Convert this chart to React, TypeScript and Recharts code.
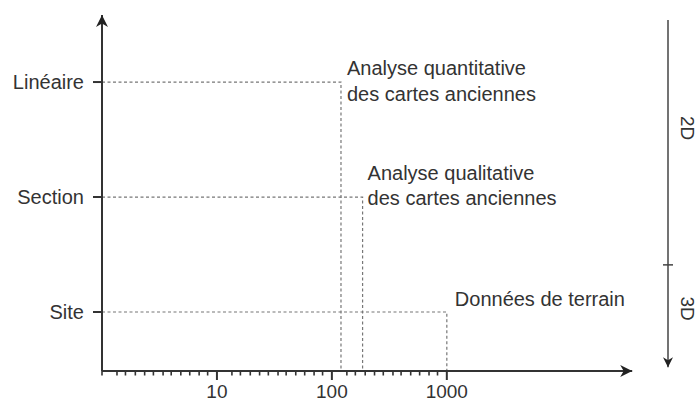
import { LineChart, Line, XAxis, YAxis, ReferenceLine, ReferenceDot } from "recharts";

// niveaux (axe vertical)
const levelNames = ["Site", "Section", "Linéaire"];
const levelValues = [1, 2, 3];

// approches : niveau atteint et échelle (axe horizontal, log)
const approachNames = [
  ["Analyse quantitative", "des cartes anciennes"],
  ["Analyse qualitative", "des cartes anciennes"],
  ["Données de terrain"],
];
const approachLevels = [3, 2, 1];
const approachScales = [120, 185, 1000];

// graduations de l'axe horizontal
const xMajorTicks = [10, 100, 1000];
const xDecades = [1, 10, 100];
const xMinorSteps = [1.35, 1.6, 1.95, 2.35, 2.8, 3.4, 4, 4.85, 5.8, 7, 8.3];

// axe de droite 2D / 3D
const dimNames = ["2D", "3D"];
const dimValues = [2.6, 1.03];
const dimBoundary = 1.41;

const X_MIN = 1;
const X_MAX = 84000;
const X_ARROW = 41000;
const Y_MIN = 0.487;
const Y_MAX = 3.583;
const RIGHT_TOP = 3.54;
const RIGHT_BOTTOM = 0.52;

const FONT = "'Liberation Sans', Arial, sans-serif";
const INK = "#333";
const DASH = "#777";

// décalages des étiquettes par rapport au coin de chaque tracé
const labelOffsets = [
  { dx: 6, dy: [-7.5, 18.5] },
  { dx: 5, dy: [-17.5, 7.5] },
  { dx: 8, dy: [-6] },
];

const xTicks = [
  X_MIN,
  ...xDecades.flatMap((d) => xMinorSteps.map((s) => s * d)),
  ...xMajorTicks,
].sort((a, b) => a - b);

const series = approachScales.map((v, i) => [
  { x: X_MIN, y: approachLevels[i] },
  { x: v, y: approachLevels[i] },
  { x: v, y: Y_MIN },
]);

function XTick(props: any) {
  const { x, y, payload } = props;
  const major = xMajorTicks.includes(payload.value);
  const len = major ? 9 : 4.5;
  return (
    <g>
      <line x1={x} y1={y} x2={x} y2={y + len} stroke={INK} strokeWidth={major ? 2 : 1.6} />
      {major && (
        <text x={x} y={y + 26.5} textAnchor="middle" fontSize={19} fontFamily={FONT} fill={INK}>
          {payload.value}
        </text>
      )}
    </g>
  );
}

function ArrowUp({ cx, cy }: any) {
  return <path d={`M${cx},${cy} L${cx + 6},${cy + 12} L${cx},${cy + 8.5} L${cx - 6},${cy + 12} Z`} fill="#222" />;
}

function ArrowRight({ cx, cy }: any) {
  return <path d={`M${cx},${cy} L${cx - 12},${cy - 6} L${cx - 8.5},${cy} L${cx - 12},${cy + 6} Z`} fill="#222" />;
}

function ArrowDown({ cx, cy }: any) {
  return <path d={`M${cx},${cy} L${cx + 5},${cy - 10} L${cx},${cy - 7} L${cx - 5},${cy - 10} Z`} fill="#222" />;
}

function SideTick({ cx, cy }: any) {
  return <line x1={cx - 5} y1={cy} x2={cx + 5} y2={cy} stroke="#444" strokeWidth={1.5} />;
}

function makeDimLabel(text: string) {
  return ({ cx, cy }: any) => (
    <text
      x={cx + 19}
      y={cy}
      transform={`rotate(90 ${cx + 19} ${cy})`}
      textAnchor="middle"
      dominantBaseline="central"
      fontSize={19}
      fontFamily={FONT}
      fill={INK}
    >
      {text}
    </text>
  );
}

function makeApproachLabel(i: number) {
  return ({ cx, cy }: any) => (
    <g>
      {approachNames[i].map((line, k) => (
        <text
          key={k}
          x={cx + labelOffsets[i].dx}
          y={cy + labelOffsets[i].dy[k]}
          fontSize={20}
          fontFamily={FONT}
          fill={INK}
        >
          {line}
        </text>
      ))}
    </g>
  );
}

export default function App() {
  return (
    <div style={{ position: "absolute", left: 0, top: 0, background: "#fff" }}>
      <LineChart width={699} height={401} margin={{ top: 15, right: 31, bottom: 0, left: 0 }}>
        <XAxis
          dataKey="x"
          type="number"
          scale="log"
          domain={[X_MIN, X_MAX]}
          allowDataOverflow
          ticks={xTicks}
          interval={0}
          tick={<XTick />}
          tickLine={false}
          axisLine={false}
          tickSize={0}
          tickMargin={0}
          height={30}
        />
        <YAxis
          type="number"
          domain={[Y_MIN, Y_MAX]}
          allowDataOverflow
          ticks={levelValues}
          interval={0}
          width={102}
          tickSize={9}
          tickMargin={9}
          tickFormatter={(v: number) => levelNames[levelValues.indexOf(v)]}
          tick={{ fill: INK, fontSize: 20, fontFamily: FONT }}
          tickLine={{ stroke: INK, strokeWidth: 2 }}
          axisLine={{ stroke: INK, strokeWidth: 2 }}
        />

        {series.map((d, i) => (
          <Line
            key={i}
            data={d}
            dataKey="y"
            type="linear"
            stroke={DASH}
            strokeWidth={1.2}
            strokeDasharray="3 2.5"
            dot={false}
            activeDot={false}
            isAnimationActive={false}
          />
        ))}

        <ReferenceLine
          segment={[{ x: X_MIN, y: Y_MIN }, { x: X_ARROW, y: Y_MIN }]}
          stroke={INK}
          strokeWidth={2}
          ifOverflow="visible"
        />
        <ReferenceLine
          segment={[{ x: X_MAX, y: RIGHT_TOP }, { x: X_MAX, y: RIGHT_BOTTOM }]}
          stroke="#444"
          strokeWidth={1.5}
          ifOverflow="visible"
        />

        <ReferenceDot x={X_MIN} y={Y_MAX} ifOverflow="visible" shape={ArrowUp} />
        <ReferenceDot x={X_ARROW} y={Y_MIN} ifOverflow="visible" shape={ArrowRight} />
        <ReferenceDot x={X_MAX} y={RIGHT_BOTTOM} ifOverflow="visible" shape={ArrowDown} />
        <ReferenceDot x={X_MAX} y={dimBoundary} ifOverflow="visible" shape={SideTick} />
        {dimNames.map((n, i) => (
          <ReferenceDot key={n} x={X_MAX} y={dimValues[i]} ifOverflow="visible" shape={makeDimLabel(n)} />
        ))}

        {approachScales.map((v, i) => (
          <ReferenceDot
            key={i}
            x={v}
            y={approachLevels[i]}
            ifOverflow="visible"
            shape={makeApproachLabel(i)}
          />
        ))}
      </LineChart>
    </div>
  );
}
